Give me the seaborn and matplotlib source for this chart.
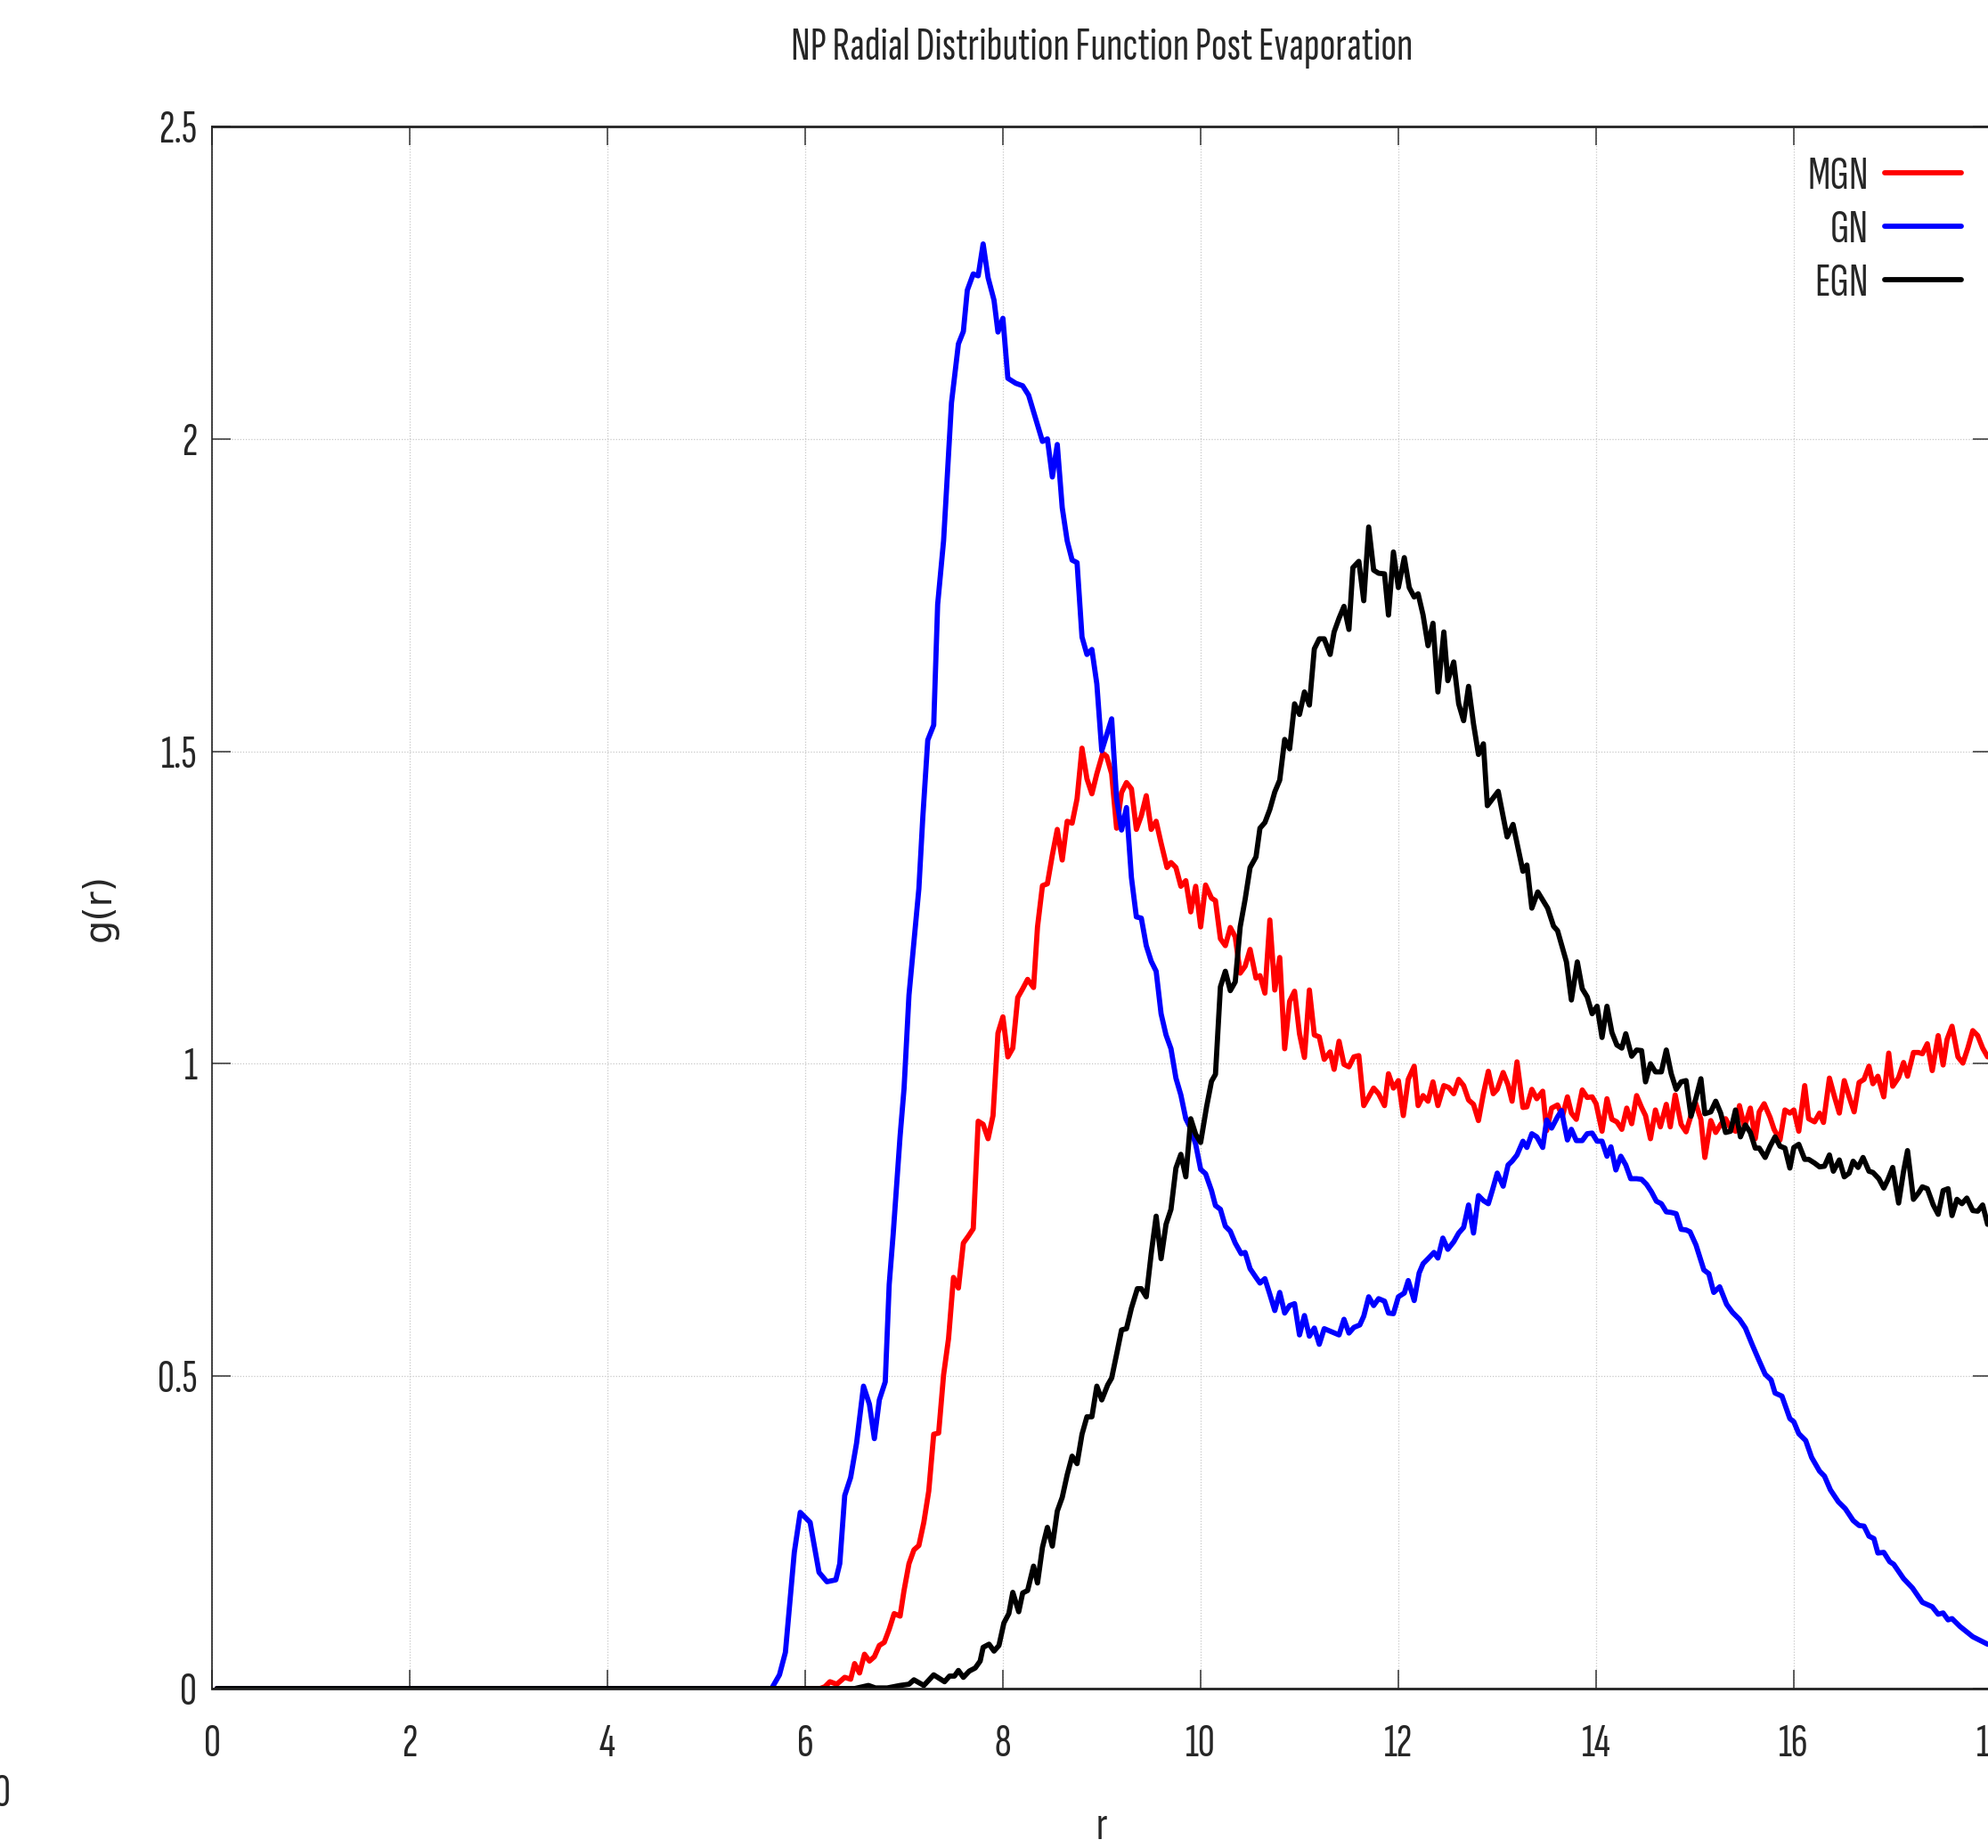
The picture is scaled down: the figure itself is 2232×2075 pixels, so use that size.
import numpy as np
import pandas as pd
import seaborn as sns
import matplotlib
matplotlib.use("Agg")
import matplotlib.pyplot as plt
from matplotlib import font_manager

# ---------------- data ----------------
r_mgn = [0.05, 6.15, 6.20, 6.25, 6.32, 6.40, 6.46, 6.50, 6.55, 6.60, 6.65, 6.70, 6.75, 6.80, 6.85, 6.90, 6.96,
         7.00, 7.05, 7.10, 7.15, 7.20, 7.25, 7.30, 7.35, 7.40, 7.45, 7.50, 7.55, 7.60, 7.65, 7.70, 7.75, 7.80,
         7.85, 7.90, 7.95, 8.00, 8.05, 8.10, 8.15, 8.20, 8.25, 8.31, 8.35, 8.40, 8.45, 8.50, 8.55, 8.60, 8.65,
         8.70, 8.75, 8.80, 8.85, 8.90, 8.95, 9.01, 9.05, 9.10, 9.15, 9.20, 9.25, 9.30, 9.35, 9.40, 9.45, 9.50,
         9.55, 9.60, 9.66, 9.70, 9.75, 9.80, 9.85, 9.90, 9.95, 10.00, 10.05, 10.11, 10.15, 10.20, 10.25, 10.30,
         10.35, 10.40, 10.45, 10.50, 10.56, 10.60, 10.65, 10.70, 10.75, 10.80, 10.85, 10.90, 10.95, 11.00,
         11.05, 11.10, 11.15, 11.20, 11.25, 11.31, 11.35, 11.40, 11.45, 11.50, 11.55, 11.60, 11.65, 11.70,
         11.75, 11.80, 11.86, 11.90, 11.95, 12.00, 12.05, 12.10, 12.16, 12.20, 12.25, 12.30, 12.35, 12.40,
         12.46, 12.51, 12.56, 12.61, 12.66, 12.71, 12.76, 12.81, 12.86, 12.91, 12.96, 13.00, 13.06, 13.11,
         13.15, 13.20, 13.26, 13.30, 13.35, 13.40, 13.46, 13.50, 13.55, 13.61, 13.66, 13.71, 13.75, 13.80,
         13.86, 13.91, 13.96, 14.00, 14.06, 14.11, 14.16, 14.21, 14.26, 14.31, 14.36, 14.41, 14.46, 14.50,
         14.55, 14.60, 14.65, 14.71, 14.75, 14.80, 14.86, 14.91, 14.95, 15.00, 15.06, 15.10, 15.16, 15.21,
         15.26, 15.31, 15.36, 15.41, 15.45, 15.50, 15.56, 15.61, 15.65, 15.70, 15.76, 15.80, 15.86, 15.91,
         15.96, 16.00, 16.05, 16.11, 16.15, 16.21, 16.26, 16.30, 16.36, 16.41, 16.46, 16.51, 16.56, 16.61,
         16.66, 16.71, 16.76, 16.80, 16.85, 16.91, 16.96, 17.00, 17.06, 17.11, 17.15, 17.21, 17.26, 17.30,
         17.35, 17.40, 17.46, 17.51, 17.55, 17.60, 17.66, 17.71, 17.76, 17.81, 17.86, 17.91, 17.96]
g_mgn = [0.0, 0.0, 0.003, 0.011, 0.007, 0.018, 0.015, 0.040, 0.025, 0.055, 0.044, 0.051, 0.069, 0.074, 0.095, 0.120, 0.116,
         0.157, 0.200, 0.222, 0.229, 0.266, 0.316, 0.407, 0.409, 0.502, 0.560, 0.658, 0.641, 0.713, 0.724, 0.736, 0.908, 0.903,
         0.880, 0.917, 1.049, 1.075, 1.011, 1.025, 1.106, 1.120, 1.135, 1.122, 1.219, 1.285, 1.288, 1.334, 1.375, 1.326, 1.388,
         1.385, 1.424, 1.505, 1.456, 1.432, 1.464, 1.497, 1.492, 1.464, 1.377, 1.434, 1.450, 1.440, 1.375, 1.397, 1.429, 1.375,
         1.388, 1.353, 1.314, 1.322, 1.314, 1.284, 1.293, 1.243, 1.284, 1.219, 1.286, 1.265, 1.261, 1.200, 1.189, 1.218,
         1.203, 1.145, 1.156, 1.183, 1.137, 1.141, 1.113, 1.230, 1.118, 1.170, 1.024, 1.100, 1.116, 1.048,
         1.010, 1.118, 1.046, 1.043, 1.007, 1.019, 0.991, 1.036, 0.999, 0.995, 1.011, 1.013, 0.933, 0.947,
         0.961, 0.952, 0.933, 0.984, 0.961, 0.973, 0.917, 0.975, 0.996, 0.933, 0.949, 0.940, 0.971, 0.933,
         0.965, 0.962, 0.952, 0.975, 0.965, 0.942, 0.935, 0.909, 0.952, 0.988, 0.952, 0.959, 0.986, 0.966,
         0.940, 1.003, 0.930, 0.931, 0.959, 0.944, 0.956, 0.893, 0.929, 0.934, 0.916, 0.947, 0.921, 0.911,
         0.958, 0.946, 0.947, 0.936, 0.892, 0.944, 0.911, 0.907, 0.895, 0.929, 0.904, 0.949, 0.930, 0.917,
         0.880, 0.926, 0.899, 0.935, 0.899, 0.950, 0.903, 0.891, 0.912, 0.940, 0.911, 0.850, 0.909, 0.890,
         0.903, 0.912, 0.897, 0.892, 0.933, 0.899, 0.929, 0.880, 0.923, 0.936, 0.914, 0.895, 0.878, 0.926,
         0.921, 0.926, 0.892, 0.965, 0.912, 0.907, 0.921, 0.906, 0.977, 0.948, 0.921, 0.973, 0.947, 0.923,
         0.970, 0.975, 0.996, 0.968, 0.980, 0.947, 1.017, 0.964, 0.978, 1.002, 0.980, 1.018, 1.018, 1.016,
         1.032, 0.989, 1.045, 0.998, 1.039, 1.060, 1.011, 1.001, 1.025, 1.053, 1.045, 1.025, 1.011]

r_gn = [0.05, 5.60, 5.66, 5.74, 5.80, 5.89, 5.95, 6.05, 6.14, 6.22, 6.31, 6.35, 6.40, 6.46, 6.52, 6.59, 6.65, 6.70,
        6.75, 6.81, 6.85, 6.89, 6.96, 7.00, 7.05, 7.15, 7.19, 7.24, 7.30, 7.34, 7.40, 7.48, 7.55, 7.60, 7.64, 7.70,
        7.75, 7.80, 7.85, 7.91, 7.95, 8.00, 8.05, 8.13, 8.20, 8.26, 8.33, 8.40, 8.45, 8.50, 8.55, 8.60, 8.65, 8.70,
        8.75, 8.80, 8.85, 8.90, 8.95, 9.00, 9.10, 9.15, 9.20, 9.25, 9.30, 9.35, 9.40, 9.45, 9.50, 9.55, 9.60, 9.65,
        9.70, 9.75, 9.80, 9.85, 9.90, 9.95, 10.00, 10.05, 10.11, 10.15, 10.20, 10.25, 10.30, 10.35, 10.41, 10.45,
        10.50, 10.56, 10.60, 10.65, 10.70, 10.75, 10.80, 10.85, 10.90, 10.95, 11.00, 11.05, 11.10, 11.15, 11.20,
        11.25, 11.31, 11.40, 11.45, 11.50, 11.55, 11.61, 11.65, 11.70, 11.75, 11.80, 11.86, 11.90, 11.95, 12.00,
        12.06, 12.10, 12.16, 12.21, 12.25, 12.30, 12.36, 12.40, 12.45, 12.50, 12.56, 12.61, 12.66, 12.71, 12.76,
        12.81, 12.86, 12.91, 12.95, 13.00, 13.06, 13.11, 13.15, 13.20, 13.26, 13.30, 13.35, 13.40, 13.46, 13.50,
        13.55, 13.61, 13.65, 13.71, 13.75, 13.80, 13.86, 13.91, 13.96, 14.01, 14.06, 14.11, 14.15, 14.20, 14.25,
        14.30, 14.35, 14.41, 14.46, 14.51, 14.56, 14.61, 14.66, 14.71, 14.76, 14.81, 14.86, 14.91, 14.95, 15.01,
        15.09, 15.14, 15.19, 15.25, 15.32, 15.38, 15.45, 15.51, 15.58, 15.64, 15.71, 15.77, 15.81, 15.88, 15.96,
        16.00, 16.05, 16.12, 16.18, 16.26, 16.31, 16.37, 16.45, 16.52, 16.60, 16.66, 16.71, 16.76, 16.81, 16.85,
        16.91, 16.97, 17.01, 17.11, 17.20, 17.30, 17.40, 17.46, 17.51, 17.56, 17.60, 17.68, 17.81, 17.96]
g_gn = [0.0, 0.0, 0.0, 0.022, 0.058, 0.218, 0.282, 0.266, 0.186, 0.171, 0.174, 0.200, 0.309, 0.338, 0.393, 0.484, 0.455, 0.400,
        0.462, 0.491, 0.647, 0.727, 0.884, 0.960, 1.110, 1.280, 1.395, 1.518, 1.542, 1.735, 1.837, 2.058, 2.152, 2.172, 2.238, 2.264,
        2.261, 2.312, 2.258, 2.222, 2.171, 2.193, 2.097, 2.089, 2.085, 2.070, 2.033, 1.996, 2.000, 1.939, 1.991, 1.890, 1.837, 1.806,
        1.802, 1.683, 1.655, 1.663, 1.608, 1.501, 1.552, 1.424, 1.374, 1.410, 1.298, 1.235, 1.233, 1.189, 1.164, 1.148, 1.080, 1.046,
        1.024, 0.977, 0.950, 0.912, 0.896, 0.871, 0.831, 0.824, 0.797, 0.773, 0.767, 0.740, 0.732, 0.713, 0.696, 0.698,
        0.672, 0.658, 0.649, 0.656, 0.631, 0.605, 0.634, 0.601, 0.613, 0.616, 0.566, 0.597, 0.564, 0.577, 0.551,
        0.576, 0.572, 0.566, 0.591, 0.569, 0.578, 0.582, 0.596, 0.627, 0.613, 0.624, 0.620, 0.601, 0.600, 0.627,
        0.633, 0.653, 0.621, 0.665, 0.680, 0.688, 0.698, 0.689, 0.721, 0.703, 0.715, 0.729, 0.738, 0.774, 0.729,
        0.789, 0.781, 0.776, 0.797, 0.825, 0.804, 0.838, 0.844, 0.854, 0.876, 0.866, 0.888, 0.883, 0.866, 0.910,
        0.897, 0.915, 0.925, 0.878, 0.895, 0.877, 0.877, 0.888, 0.889, 0.876, 0.876, 0.852, 0.867, 0.830, 0.852,
        0.838, 0.816, 0.816, 0.815, 0.807, 0.795, 0.780, 0.776, 0.763, 0.762, 0.760, 0.735, 0.734, 0.731, 0.710,
        0.670, 0.664, 0.634, 0.643, 0.615, 0.602, 0.591, 0.577, 0.550, 0.528, 0.503, 0.494, 0.473, 0.468, 0.432,
        0.427, 0.408, 0.397, 0.370, 0.348, 0.340, 0.318, 0.299, 0.288, 0.269, 0.261, 0.260, 0.244, 0.240, 0.217,
        0.218, 0.203, 0.199, 0.176, 0.161, 0.138, 0.131, 0.119, 0.121, 0.110, 0.112, 0.0995, 0.083, 0.071]

r_egn = [0.05, 6.50, 6.64, 6.71, 6.83, 6.96, 7.05, 7.10, 7.20, 7.30, 7.41, 7.46, 7.51, 7.55, 7.60, 7.66, 7.72, 7.77,
         7.80, 7.86, 7.91, 7.96, 8.01, 8.06, 8.10, 8.16, 8.20, 8.25, 8.31, 8.35, 8.40, 8.45, 8.50, 8.55, 8.60, 8.65,
         8.70, 8.75, 8.80, 8.85, 8.90, 8.95, 9.00, 9.06, 9.10, 9.15, 9.20, 9.25, 9.30, 9.36, 9.40, 9.45, 9.50, 9.55,
         9.60, 9.65, 9.70, 9.75, 9.80, 9.85, 9.90, 9.95, 10.00, 10.06, 10.11, 10.15, 10.20, 10.25, 10.30, 10.35,
         10.40, 10.45, 10.50, 10.56, 10.60, 10.65, 10.70, 10.75, 10.80, 10.85, 10.90, 10.95, 11.00, 11.05, 11.10,
         11.15, 11.20, 11.25, 11.31, 11.35, 11.40, 11.45, 11.50, 11.54, 11.60, 11.65, 11.70, 11.75, 11.80, 11.86,
         11.90, 11.95, 12.00, 12.06, 12.11, 12.16, 12.20, 12.25, 12.30, 12.35, 12.40, 12.46, 12.50, 12.56, 12.61,
         12.66, 12.71, 12.76, 12.81, 12.86, 12.90, 13.01, 13.10, 13.16, 13.26, 13.30, 13.35, 13.41, 13.51, 13.57,
         13.61, 13.70, 13.75, 13.81, 13.86, 13.91, 13.96, 14.01, 14.06, 14.11, 14.16, 14.21, 14.26, 14.30, 14.36,
         14.41, 14.46, 14.50, 14.55, 14.60, 14.66, 14.71, 14.76, 14.81, 14.86, 14.91, 14.96, 15.01, 15.06, 15.10,
         15.16, 15.21, 15.26, 15.31, 15.36, 15.41, 15.46, 15.51, 15.56, 15.61, 15.65, 15.71, 15.76, 15.81, 15.86,
         15.91, 15.96, 16.00, 16.05, 16.11, 16.15, 16.21, 16.26, 16.31, 16.36, 16.40, 16.46, 16.51, 16.56, 16.60,
         16.65, 16.70, 16.76, 16.80, 16.86, 16.91, 16.95, 17.00, 17.06, 17.11, 17.15, 17.21, 17.26, 17.30, 17.35,
         17.41, 17.46, 17.51, 17.56, 17.60, 17.65, 17.70, 17.75, 17.81, 17.86, 17.91, 17.96]
g_egn = [0.0, 0.0, 0.005, 0.001, 0.001, 0.005, 0.007, 0.014, 0.005, 0.022, 0.011, 0.020, 0.020, 0.029, 0.018, 0.028, 0.033, 0.044,
         0.066, 0.071, 0.060, 0.069, 0.105, 0.120, 0.154, 0.123, 0.153, 0.157, 0.196, 0.169, 0.226, 0.258, 0.228, 0.284, 0.306, 0.342,
         0.372, 0.360, 0.407, 0.435, 0.435, 0.484, 0.462, 0.486, 0.497, 0.535, 0.574, 0.576, 0.609, 0.640, 0.640, 0.627, 0.696, 0.756,
         0.688, 0.743, 0.767, 0.833, 0.855, 0.819, 0.912, 0.887, 0.874, 0.931, 0.972, 0.983, 1.123, 1.148, 1.117, 1.131,
         1.219, 1.263, 1.314, 1.331, 1.377, 1.386, 1.407, 1.435, 1.454, 1.519, 1.504, 1.576, 1.559, 1.595, 1.574,
         1.664, 1.680, 1.680, 1.655, 1.691, 1.713, 1.732, 1.695, 1.794, 1.804, 1.741, 1.859, 1.790, 1.785, 1.784,
         1.718, 1.819, 1.762, 1.810, 1.762, 1.747, 1.752, 1.718, 1.669, 1.705, 1.595, 1.691, 1.613, 1.643, 1.576,
         1.549, 1.604, 1.544, 1.495, 1.512, 1.413, 1.436, 1.363, 1.383, 1.308, 1.318, 1.249, 1.275, 1.249, 1.220,
         1.213, 1.163, 1.102, 1.163, 1.120, 1.107, 1.080, 1.092, 1.042, 1.092, 1.050, 1.030, 1.025, 1.048, 1.012,
         1.022, 1.021, 0.971, 1.000, 0.987, 0.987, 1.022, 0.984, 0.959, 0.971, 0.973, 0.916, 0.945, 0.976, 0.920,
         0.923, 0.940, 0.921, 0.890, 0.892, 0.926, 0.883, 0.902, 0.890, 0.865, 0.865, 0.850, 0.868, 0.883, 0.868,
         0.865, 0.833, 0.866, 0.871, 0.847, 0.847, 0.841, 0.835, 0.836, 0.854, 0.828, 0.846, 0.819, 0.825, 0.844,
         0.834, 0.850, 0.828, 0.826, 0.816, 0.801, 0.814, 0.834, 0.777, 0.828, 0.861, 0.783, 0.793, 0.803, 0.800,
         0.774, 0.759, 0.797, 0.800, 0.757, 0.783, 0.776, 0.785, 0.765, 0.764, 0.774, 0.743]

series_names = ["MGN", "GN", "EGN"]
series_colors = ["#ff0000", "#0000ff", "#000000"]
x_ticks = [0, 2, 4, 6, 8, 10, 12, 14, 16, 18]
x_tick_labels = ["0", "2", "4", "6", "8", "10", "12", "14", "16", "18"]
y_ticks = [0, 0.5, 1.0, 1.5, 2.0, 2.5]
y_tick_labels = ["0", "0.5", "1", "1.5", "2", "2.5"]
title_text = "NP Radial Distribution Function Post Evaporation"

# ---------------- fonts ----------------
sns.set_theme(style="white")
plt.rcParams["font.family"] = ["DejaVu Sans"]

installed = {f.name for f in font_manager.fontManager.ttflist}
narrow_family = "DejaVu Sans"
for cand in ["Sofia Sans Extra Condensed", "Fira Sans Extra Condensed", "Saira ExtraCondensed",
             "Roboto Condensed", "Barlow Condensed"]:
    if cand in installed:
        narrow_family = cand
        break


def narrow_fp(size):
    return font_manager.FontProperties(family=[narrow_family, "DejaVu Sans"], size=size)


# ---------------- figure ----------------
W, H = 2232, 2075
PT = 100.0 / 72.0  # pixels per point
fig = plt.figure(figsize=(W / 100, H / 100), dpi=100)
fig.patch.set_facecolor("white")
renderer = fig.canvas.get_renderer()

# size the narrow font so that the title is as wide as in the reference (~700 px)
probe = fig.text(0, 0, title_text, fontproperties=narrow_fp(30))
probe_w = probe.get_window_extent(renderer).width
probe.remove()
base = float(np.clip(30 * 700.0 / probe_w, 18, 44))

ax = fig.add_axes([238 / W, (H - 1896) / H, (2236 - 238) / W, (1896 - 142) / H])

LW = 4.2
for r, g, nm, col in [(r_mgn, g_mgn, series_names[0], series_colors[0]),
                      (r_gn, g_gn, series_names[1], series_colors[1]),
                      (r_egn, g_egn, series_names[2], series_colors[2])]:
    df = pd.DataFrame({"r": r, "g": g})
    sns.lineplot(data=df, x="r", y="g", ax=ax, color=col, linewidth=LW, label=nm,
                 sort=False, estimator=None, legend=False, solid_capstyle="round", solid_joinstyle="round")

ax.set_xlim(0, 18)
ax.set_ylim(0, 2.5)
ax.set_xticks(x_ticks)
ax.set_xticklabels(x_tick_labels)
ax.set_yticks(y_ticks)
ax.set_yticklabels(y_tick_labels)
ax.grid(True, color="#c8c8c8", linestyle=(0, (1, 1.5)), linewidth=0.9)
ax.set_axisbelow(True)
ax.tick_params(axis="both", which="major", direction="in", length=15, width=1.1, color="#333333",
               top=True, right=True, bottom=True, left=True)
ax.tick_params(axis="x", pad=29)
ax.tick_params(axis="y", pad=12)
for lab in ax.get_xticklabels() + ax.get_yticklabels():
    lab.set_fontproperties(narrow_fp(base))
for side, sp in ax.spines.items():
    sp.set_visible(True)
    sp.set_color("#222222")
    sp.set_linewidth(2.0 if side in ("top", "bottom") else 1.2)

ax.set_xlabel("r", fontproperties=narrow_fp(base), va="center")
ax.xaxis.set_label_coords(0.5, (1896 - 2052) / 1754)
ax.set_ylabel("g(r)", fontsize=30, family="DejaVu Sans", labelpad=0)
ax.yaxis.set_label_coords((133 - 238) / 1998, 0.5)
ax.set_title(title_text, fontproperties=narrow_fp(base), pad=54)

handles, labels = ax.get_legend_handles_labels()


def make_legend(ls, anchor_y):
    lg = ax.legend(handles, labels, loc="upper right", bbox_to_anchor=(0.983, anchor_y),
                   frameon=False, markerfirst=False, prop=narrow_fp(base),
                   handlelength=62.0 / base, handletextpad=13.0 / base, labelspacing=ls,
                   borderaxespad=0, borderpad=0)
    for hl in lg.get_lines():
        hl.set_linewidth(LW)
        hl.set_solid_capstyle("round")
    return lg


def centre_y(t):
    bb = t.get_window_extent(renderer)
    return 0.5 * (bb.y0 + bb.y1)


ls0, ay0 = 0.4, 0.985
leg = make_legend(ls0, ay0)
fig.canvas.draw()
tx = leg.get_texts()
pitch = centre_y(tx[0]) - centre_y(tx[1])
ls1 = ls0 + (60.0 - pitch) / (base * PT)
leg.remove()
leg = make_legend(ls1, ay0)
fig.canvas.draw()
c0 = centre_y(leg.get_texts()[0])
target_c0 = H - 199.0
leg.remove()
leg = make_legend(ls1, ay0 + (target_c0 - c0) / 1754.0)

fig.text(12 / W, 1 - 2015 / H, "0", ha="right", va="center", fontproperties=narrow_fp(base))

fig.savefig("out.png", dpi=100, facecolor="white")
